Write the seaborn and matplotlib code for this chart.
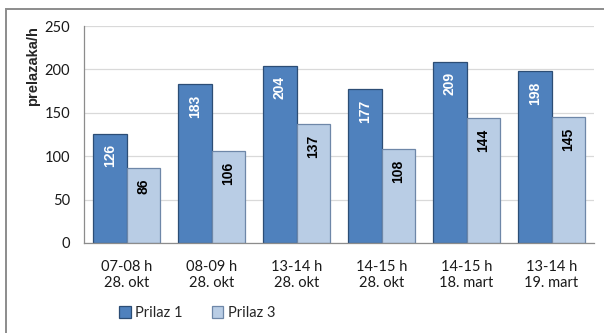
import matplotlib
matplotlib.use("Agg")
import matplotlib.pyplot as plt
from matplotlib.patches import Rectangle
import pandas as pd
import seaborn as sns

# Measured crossing rates per time slot
categories = ["07-08 h\n28. okt", "08-09 h\n28. okt", "13-14 h\n28. okt",
              "14-15 h\n28. okt", "14-15 h\n18. mart", "13-14 h\n19. mart"]
prilaz_1 = [126, 183, 204, 177, 209, 198]
prilaz_3 = [86, 106, 137, 108, 144, 145]
series_names = ["Prilaz 1", "Prilaz 3"]
y_ticks = [0, 50, 100, 150, 200, 250]

df = pd.DataFrame({
    "slot": categories * 2,
    "value": prilaz_1 + prilaz_3,
    "series": [series_names[0]] * len(categories) + [series_names[1]] * len(categories),
})

sns.set_theme(style="white")
plt.rcParams["font.family"] = ["Lato", "DejaVu Sans"]

fill_colors = {"Prilaz 1": "#4F81BD", "Prilaz 3": "#B9CDE5"}
edge_colors = {"Prilaz 1": "#2C4D75", "Prilaz 3": "#6E87A8"}
label_colors = {"Prilaz 1": "white", "Prilaz 3": "black"}

fig = plt.figure(figsize=(6.04, 3.33), dpi=100)
ax = fig.add_axes([84 / 604, 1 - 243 / 333, (594 - 84) / 604, (243 - 26) / 333])

sns.barplot(data=df, x="slot", y="value", hue="series", palette=fill_colors,
            width=0.78, gap=0, saturation=1, ax=ax, legend=True)

for container, name in zip(ax.containers, series_names):
    for bar in container:
        bar.set_edgecolor(edge_colors[name])
        bar.set_linewidth(0.9)
    labels = ax.bar_label(container, fmt="%d", label_type="edge", padding=-7.5,
                          rotation=90, color=label_colors[name],
                          fontsize=10, fontweight="bold",
                          family=["Liberation Sans", "DejaVu Sans"])
    for t in labels:
        t.set_va("top")
        t.set_ha("center")

ax.set_ylim(0, 250)
ax.set_yticks(y_ticks)
ax.set_xlim(-0.5, len(categories) - 0.5)
ax.yaxis.grid(True, color="#D9D9D9", linewidth=0.9)
ax.set_axisbelow(True)
ax.tick_params(axis="both", length=0, labelsize=10.5, colors="#1a1a1a")
ax.tick_params(axis="x", pad=12)
ax.tick_params(axis="y", pad=10)
ax.set_xlabel("")
ax.set_ylabel("")
for side in ["top", "right"]:
    ax.spines[side].set_visible(False)
for side in ["left", "bottom"]:
    ax.spines[side].set_color("#8C8C8C")
    ax.spines[side].set_linewidth(0.9)

fig.text(33 / 604, 1 - 66 / 333, "prelazaka/h", rotation=90, ha="center", va="center",
         fontsize=10.5, fontweight="bold", family=["Liberation Sans", "DejaVu Sans"])

handles, _ = ax.get_legend_handles_labels()
for h, name in zip(handles, series_names):
    h.set_edgecolor(edge_colors[name])
    h.set_linewidth(0.9)
ax.legend(handles, series_names, loc="center", ncol=2, frameon=False,
          bbox_to_anchor=(197 / 604, 1 - 313 / 333), bbox_transform=fig.transFigure,
          fontsize=10.5, handlelength=0.8, handleheight=0.8, handletextpad=0.3,
          columnspacing=2.0)

# Chart frame
fig.patches.append(Rectangle((6 / 604, -0.1), 1.2, 1.1 - 9 / 333,
                             transform=fig.transFigure, fill=False,
                             edgecolor="#8C8C8C", linewidth=1.4))

fig.savefig("out.png", dpi=100)
